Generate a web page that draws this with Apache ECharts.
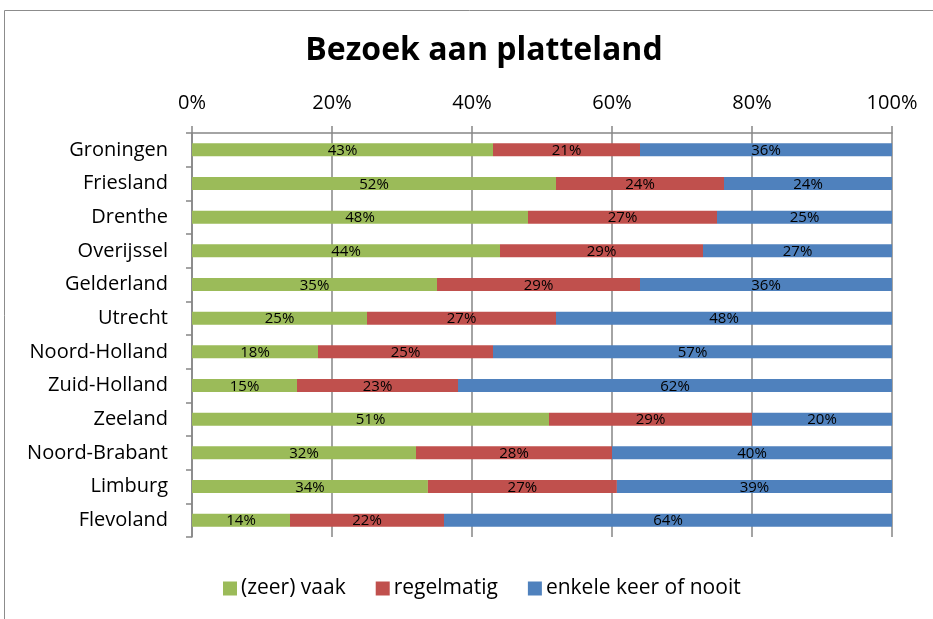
<!DOCTYPE html>
<html lang="nl">
  <head>
    <meta charset="UTF-8" />
    <title>Bezoek aan platteland</title>
    <style>
      html, body { margin: 0; padding: 0; background: #fff; }
    </style>
  </head>
  <body>
    <div id="main" style="width: 933px; height: 619px"></div>

    <script src="https://cdn.jsdelivr.net/npm/echarts@6/dist/echarts.min.js"></script>
    <script>
      // provincies, van boven naar beneden
      var provinces = [
        "Groningen", "Friesland", "Drenthe", "Overijssel", "Gelderland", "Utrecht",
        "Noord-Holland", "Zuid-Holland", "Zeeland", "Noord-Brabant", "Limburg", "Flevoland"
      ];
      var seriesNames = ["(zeer) vaak", "regelmatig", "enkele keer of nooit"];
      var vaak = [43, 52, 48, 44, 35, 25, 18, 15, 51, 32, 33.7, 14];
      var regelmatig = [21, 24, 27, 29, 29, 27, 25, 23, 29, 28, 27, 22];
      var nooit = [36, 24, 25, 27, 36, 48, 57, 62, 20, 40, 39.3, 64];
      var colors = ["#9BBB59", "#C0504D", "#4F81BD"];

      var font = "Open Sans";
      var axisGrey = "#868686";

      var myChart = echarts.init(document.getElementById("main"), null, { renderer: "canvas" });

      function makeSeries(name, values, color) {
        return {
          name: name,
          type: "bar",
          stack: "total",
          barWidth: 13,
          data: values,
          itemStyle: { color: color },
          label: {
            show: true,
            position: "inside",
            offset: [0, 1],
            color: "#000",
            fontFamily: font,
            fontSize: 15,
            formatter: function (p) {
              return Math.round(p.value) + "%";
            },
          },
        };
      }

      var option = {
        backgroundColor: "#fff",
        animation: false,
        graphic: [
          {
            type: "rect",
            shape: { x: 4.5, y: 10.5, width: 960, height: 640 },
            style: { fill: "none", stroke: "#8c8c8c", lineWidth: 1 },
            silent: true,
          },
        ],
        title: {
          text: "Bezoek aan platteland",
          left: 479,
          textAlign: "center",
          top: 30,
          textStyle: { fontFamily: font, fontSize: 32, fontWeight: "bold", color: "#000" },
        },
        legend: {
          bottom: 15,
          left: 218,
          icon: "rect",
          itemWidth: 14,
          itemHeight: 14,
          itemGap: 30,
          textStyle: { fontFamily: font, fontSize: 21, color: "#000", padding: [0, 0, 0, -1] },
          data: seriesNames,
        },
        grid: { left: 192, right: 41, top: 133, bottom: 82 },
        xAxis: {
          type: "value",
          position: "top",
          min: 0,
          max: 100,
          interval: 20,
          axisLine: { show: true, lineStyle: { color: axisGrey, width: 1.5 } },
          axisTick: { show: true, length: 7, lineStyle: { color: axisGrey, width: 1.5 } },
          splitLine: { show: true, lineStyle: { color: axisGrey, width: 1.5 } },
          axisLabel: {
            formatter: "{value}%",
            margin: 20,
            fontFamily: font,
            fontSize: 20,
            color: "#000",
          },
        },
        yAxis: {
          type: "category",
          inverse: true,
          data: provinces,
          axisLine: { show: true, lineStyle: { color: axisGrey, width: 1.5 } },
          axisTick: { show: true, length: 6, lineStyle: { color: axisGrey, width: 1.5 } },
          axisLabel: { margin: 24, fontFamily: font, fontSize: 20, color: "#000" },
        },
        series: [
          makeSeries(seriesNames[0], vaak, colors[0]),
          makeSeries(seriesNames[1], regelmatig, colors[1]),
          makeSeries(seriesNames[2], nooit, colors[2]),
        ],
      };
      myChart.setOption(option);
    </script>
  </body>
</html>
